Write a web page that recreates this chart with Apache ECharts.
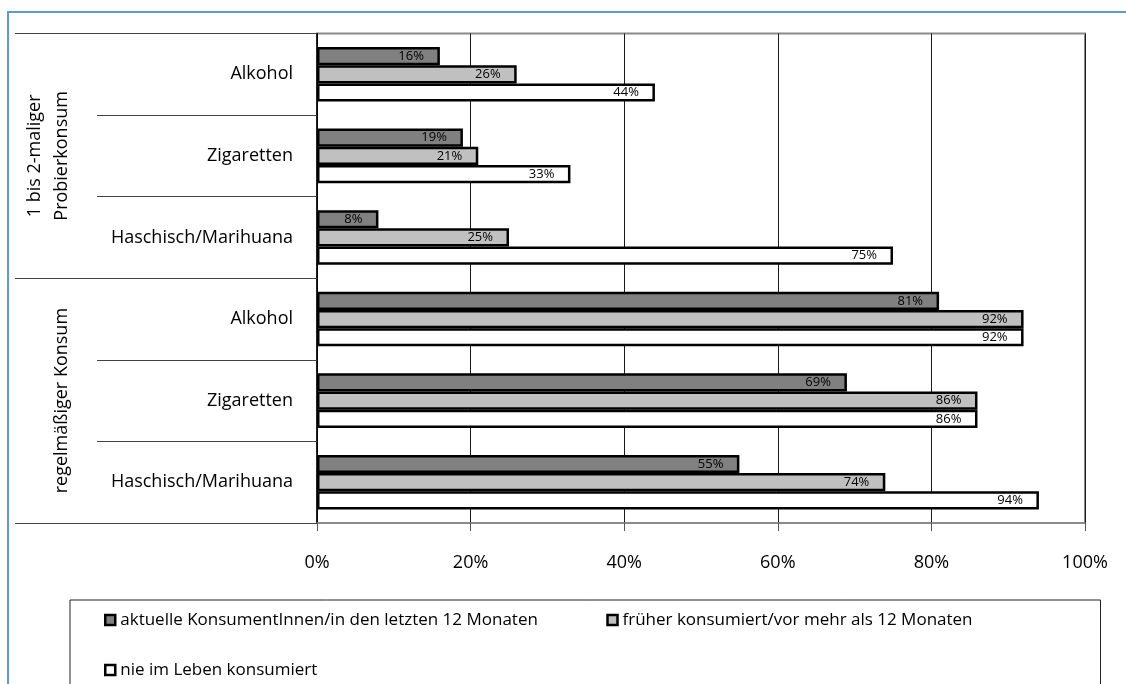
<!DOCTYPE html>
<html lang="de">
<head>
<meta charset="utf-8">
<title>Konsumverhalten</title>
<script src="https://cdn.jsdelivr.net/npm/echarts@6/dist/echarts.min.js"></script>
<style>
  html, body { margin: 0; padding: 0; background: #fff; }
  #chart { position: absolute; left: 0; top: 0; width: 1126px; height: 684px; }
  #frame {
    position: absolute; left: 7px; top: 11px; right: 0; bottom: 0;
    border-left: 2px solid #6297dc; border-top: 2px solid #6297dc;
    pointer-events: none;
  }
</style>
</head>
<body>
<div id="chart"></div>
<div id="frame"></div>
<script>
// Substances, grouped by consumption pattern (top to bottom)
const categories = ['Alkohol', 'Zigaretten', 'Haschisch/Marihuana', 'Alkohol', 'Zigaretten', 'Haschisch/Marihuana'];
const groups = ['1 bis 2-maliger\nProbierkonsum', 'regelmäßiger Konsum'];

// Share of respondents (%) per substance
const seriesNames = [
  'aktuelle KonsumentInnen/in den letzten 12 Monaten',
  'früher konsumiert/vor mehr als 12 Monaten',
  'nie im Leben konsumiert'
];
const aktuell = [16, 19, 8, 81, 69, 55];
const frueher = [26, 21, 25, 92, 86, 74];
const nie = [44, 33, 75, 92, 86, 94];

const xTicks = [0, 20, 40, 60, 80, 100];

const FONT = 'Open Sans';
const fills = ['#808080', '#c0c0c0', '#ffffff'];

function barSeries(name, values, color) {
  return {
    name: name,
    type: 'bar',
    yAxisIndex: 0,
    data: values,
    barGap: '0%',
    barCategoryGap: '33%',
    itemStyle: { color: color, borderColor: '#000', borderWidth: 2.5 },
    label: {
      show: true,
      position: 'insideRight',
      distance: 16,
      formatter: '{c}%',
      fontFamily: FONT,
      fontSize: 13,
      color: '#000'
    },
    emphasis: { disabled: true }
  };
}

const chart = echarts.init(document.getElementById('chart'), null, { renderer: 'canvas' });

chart.setOption({
  animation: false,
  backgroundColor: '#fff',
  textStyle: { fontFamily: FONT, color: '#000' },
  grid: {
    left: 317, right: 41, top: 33.5, bottom: 161,
    show: true, borderColor: '#8a8a8a', borderWidth: 2, backgroundColor: 'transparent'
  },
  xAxis: {
    type: 'value',
    min: xTicks[0],
    max: xTicks[xTicks.length - 1],
    interval: xTicks[1] - xTicks[0],
    axisLine: { show: true, lineStyle: { color: '#8a8a8a', width: 1.5 } },
    axisTick: { show: true, length: 8, lineStyle: { color: '#555', width: 1 } },
    splitLine: { show: true, lineStyle: { color: '#1a1a1a', width: 1 } },
    axisLabel: {
      formatter: '{value}%',
      fontFamily: FONT, fontSize: 18, color: '#000', margin: 31
    }
  },
  yAxis: [
    {
      type: 'category',
      data: categories,
      inverse: true,
      position: 'left',
      axisLine: { show: true, lineStyle: { color: '#000', width: 1.5 } },
      axisTick: { show: true, interval: 0, length: 220, lineStyle: { color: '#444', width: 1.2 } },
      axisLabel: { interval: 0, fontFamily: FONT, fontSize: 18, color: '#000', margin: 24 },
      splitLine: { show: false }
    },
    {
      type: 'category',
      data: groups,
      inverse: true,
      position: 'left',
      axisLine: { show: false },
      axisTick: { show: true, interval: 0, length: 302, lineStyle: { color: '#444', width: 1.2 } },
      axisLabel: {
        interval: 0, rotate: 90, margin: 242,
        fontFamily: FONT, fontSize: 18, lineHeight: 27, color: '#000'
      },
      splitLine: { show: false }
    }
  ],
  legend: {
    data: seriesNames,
    left: 70,
    top: 600,
    width: 990,
    padding: [3, 8, 10, 34],
    itemGap: 16,
    itemWidth: 10,
    itemHeight: 10,
    icon: 'rect',
    selectedMode: false,
    borderColor: '#222',
    borderWidth: 1,
    itemStyle: { borderColor: '#000', borderWidth: 2.5 },
    textStyle: { fontFamily: FONT, fontSize: 17, color: '#000', width: 470, lineHeight: 34 }
  },
  series: [
    barSeries(seriesNames[0], aktuell, fills[0]),
    barSeries(seriesNames[1], frueher, fills[1]),
    barSeries(seriesNames[2], nie, fills[2])
  ]
});
</script>
</body>
</html>
